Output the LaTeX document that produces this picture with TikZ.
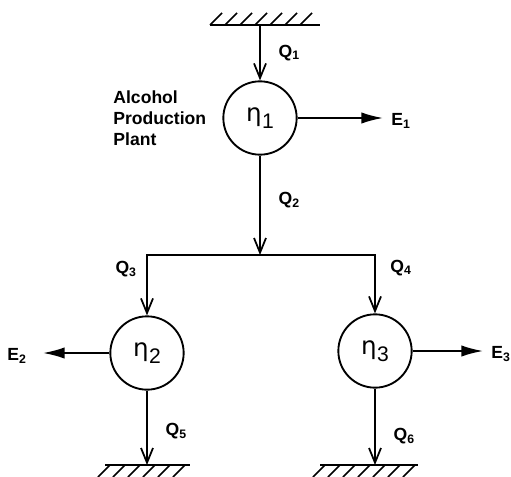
\documentclass[tikz,border=0pt]{standalone}
\usepackage{fontspec}
\setmainfont{Liberation Sans}
\newfontfamily\etafont{DejaVu Sans}
\usetikzlibrary{arrows.meta,positioning}
\newcommand\effsym[1]{{\etafont η}\kern0.5pt\raisebox{-0.3em}{\fontsize{18}{18}\selectfont #1}}
\tikzset{
  plantnode/.style={circle, draw, line width=1.6pt, minimum size=2.2cm,
    inner sep=0pt, font=\fontsize{21}{24}\selectfont},
  flowlabel/.style={font=\bfseries\fontsize{15}{17}\selectfont, inner sep=1pt},
  namelabel/.style={font=\bfseries\fontsize{15}{18}\selectfont, inner sep=0pt,
    align=left},
  qflow/.style={line width=1.5pt,
    -{Straight Barb[length=4.4mm,width=3.6mm,line width=1.5pt]}},
  eflow/.style={line width=1.5pt, -{Latex[length=6.5mm,width=3.4mm]}},
  groundline/.style={line width=1.5pt},
  hatch/.style={line width=1.3pt}
}

\begin{document}
\begin{tikzpicture}[x=0.03cm, y=-0.03cm]
  \useasboundingbox (0,0) rectangle (511,476);

  % --- plants ---
  \node[plantnode] (plant1) at (260,118) {\effsym{1}};
  \node[plantnode] (plant2) at (147,353) {\effsym{2}};
  \node[plantnode] (plant3) at (375,351) {\effsym{3}};
  \node[namelabel, left=4.8mm of plant1] (plantname)
       {Alcohol\\Production\\Plant};

  % --- grounds and free ends ---
  \coordinate (gtop) at (260,25);
  \coordinate (gleft) at (147,465);
  \coordinate (gright) at (375,465);
  \coordinate (split) at (260,255);
  \coordinate (e1tip) at (383,118);
  \coordinate (e2tip) at (43,353);
  \coordinate (e3tip) at (483,351);

  \draw[groundline] (210,25) -- (320,25);
  \foreach \x in {210,225,...,300} \draw[hatch] (\x,25) -- ++(12,-12);
  \draw[groundline] (105,465) -- (190,465);
  \foreach \x in {110,125,...,190} \draw[hatch] (\x,465) -- ++(-12,12);
  \draw[groundline] (320,465) -- (418,465);
  \foreach \x in {325,340,...,415} \draw[hatch] (\x,465) -- ++(-12,12);

  % --- energy outputs ---
  \node[flowlabel] (E1) at (401,121) {E\textsubscript{1}};
  \node[flowlabel] (E2) at (17,356) {E\textsubscript{2}};
  \node[flowlabel] (E3) at (501,354) {E\textsubscript{3}};
  \draw[eflow] (plant1) -- (e1tip);
  \draw[eflow] (plant2) -- (e2tip);
  \draw[eflow] (plant3) -- (e3tip);

  % --- heat flows ---
  \draw[qflow] (gtop) -- (plant1)
        node[flowlabel, midway, right=5mm] (Q1) {Q\textsubscript{1}};
  \draw[qflow] (plant1) -- (split)
        node[flowlabel, pos=0.45, right=5mm] (Q2) {Q\textsubscript{2}};
  \draw[qflow] (split) -| (plant2)
        node[flowlabel, pos=0.62, left=2.5mm] (Q3) {Q\textsubscript{3}};
  \draw[qflow] (split) -| (plant3)
        node[flowlabel, pos=0.61, right=4mm] (Q4) {Q\textsubscript{4}};
  \draw[qflow] (plant2) -- (gleft)
        node[flowlabel, pos=0.55, right=5mm] (Q5) {Q\textsubscript{5}};
  \draw[qflow] (plant3) -- (gright)
        node[flowlabel, pos=0.62, right=5mm] (Q6) {Q\textsubscript{6}};

\end{tikzpicture}
\end{document}
